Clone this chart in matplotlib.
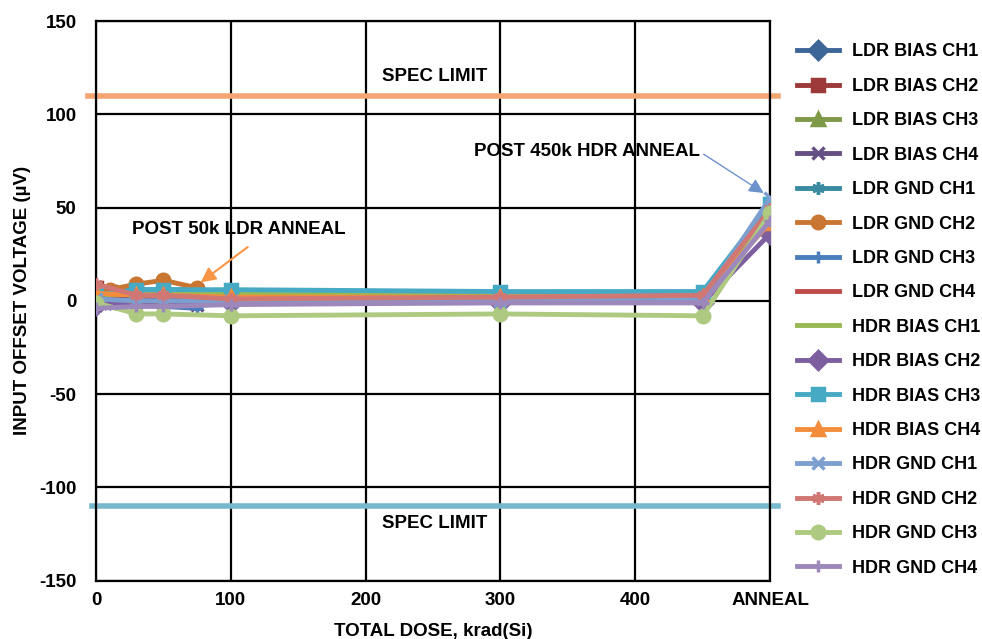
import matplotlib.pyplot as plt

plt.rcParams['font.family'] = ['Liberation Sans', 'DejaVu Sans']
plt.rcParams['font.weight'] = 'bold'
plt.rcParams['axes.unicode_minus'] = False

# doses (krad(Si)); the anneal point is placed at 500
ldr_dose = [0, 10, 30, 50, 75]
hdr_dose = [0, 30, 50, 100, 300, 450, 500]

ldr_names = ['LDR BIAS CH1', 'LDR BIAS CH2', 'LDR BIAS CH3', 'LDR BIAS CH4',
             'LDR GND CH1', 'LDR GND CH2', 'LDR GND CH3', 'LDR GND CH4']
ldr_vals = [
    [2, 1, 1, 1, 0],
    [7, 5, 3, 3, 3],
    [3, 3, 4, 4, 4],
    [-2, -1, -1, -1, -2],
    [5, 5, 6, 6, 6],
    [7, 6, 9, 11, 7],
    [0, -1, -2, -3, -4],
    [1, 1, 0, 0, 0],
]

hdr_names = ['HDR BIAS CH1', 'HDR BIAS CH2', 'HDR BIAS CH3', 'HDR BIAS CH4',
             'HDR GND CH1', 'HDR GND CH2', 'HDR GND CH3', 'HDR GND CH4']
hdr_vals = [
    [3, 4, 4, 4, 4, 4, 45],
    [-2, -1, -1, -1, -1, -1, 36],
    [3, 6, 6, 6, 5, 5, 52],
    [4, 3, 3, 2, 2, 2, 42],
    [1, 0, 0, 0, 0, 1, 55],
    [9, 3, 3, 1, 2, 3, 49],
    [-1, -7, -7, -8, -7, -8, 47],
    [-4, -3, -3, -2, -1, -1, 43],
]

spec_limit = 110
xtick_vals = [0, 100, 200, 300, 400, 500]
xtick_labels = ['0', '100', '200', '300', '400', 'ANNEAL']

ldr_colors = ['#3D6698', '#9B3A38', '#7E9A48', '#664F82',
              '#3A8BA0', '#C97633', '#4A7EBB', '#BE4B48']
hdr_colors = ['#98B954', '#7D5FA0', '#46AAC5', '#F38C3B',
              '#7C9FD0', '#D07774', '#AEC980', '#9C88BB']
asterisk = (6, 2, 0)
ldr_markers = ['D', 's', '^', 'x', asterisk, 'o', '+', None]
hdr_markers = [None, 'D', 's', '^', 'x', asterisk, 'o', '+']

fig = plt.figure(figsize=(9.82, 6.39), dpi=100)
ax = fig.add_axes([0.0978, 0.0912, 0.6864, 0.8759])

for vals, name, c, m in zip(ldr_vals, ldr_names, ldr_colors, ldr_markers):
    ax.plot(ldr_dose, vals, color=c, lw=3.5, marker=m, ms=9, mew=2.5,
            label=name, zorder=3)
for vals, name, c, m in zip(hdr_vals, hdr_names, hdr_colors, hdr_markers):
    ax.plot(hdr_dose, vals, color=c, lw=3.5, marker=m, ms=9, mew=2.5,
            label=name, zorder=3)

# spec limits
ax.plot([-6, 506], [spec_limit, spec_limit], color='#F4A672', lw=4,
        clip_on=False, zorder=2)
ax.plot([-3, 506], [-spec_limit, -spec_limit], color='#78B8CC', lw=4,
        clip_on=False, zorder=2)
ax.text(251, 120.5, 'SPEC LIMIT', ha='center', va='center', fontsize=13.5,
        fontweight='bold')
ax.text(251, -119.5, 'SPEC LIMIT', ha='center', va='center', fontsize=13.5,
        fontweight='bold')

# annotations
ax.annotate('POST 50k LDR ANNEAL', xy=(76, 9), xytext=(106, 38.5),
            ha='center', va='center', fontsize=13.5, fontweight='bold',
            arrowprops=dict(arrowstyle='-|>', color='#F79646', lw=1.5,
                            mutation_scale=22, shrinkA=8,
                            relpos=(0.6, 0.0)))
ax.annotate('POST 450k HDR ANNEAL', xy=(497, 57), xytext=(364, 80),
            ha='center', va='center', fontsize=13.5, fontweight='bold',
            arrowprops=dict(arrowstyle='-|>', color='#6E93CC', lw=1,
                            mutation_scale=22, shrinkA=1,
                            relpos=(1.0, 0.5)))

ax.set_xlim(0, 500)
ax.set_ylim(-150, 150)
ax.set_xticks(xtick_vals)
ax.set_xticklabels(xtick_labels)
ax.set_yticks([-150, -100, -50, 0, 50, 100, 150])
ax.tick_params(length=0, labelsize=13.5)
ax.tick_params(axis='y', pad=14)
ax.tick_params(axis='x', pad=8)
ax.grid(True, color='black', lw=1.6, zorder=1)
ax.set_axisbelow(True)
for s in ax.spines.values():
    s.set_linewidth(1.6)
    s.set_color('black')

ax.set_xlabel('TOTAL DOSE, krad(Si)', fontsize=13.5, fontweight='bold', labelpad=10)
ax.set_ylabel('INPUT OFFSET VOLTAGE (µV)', fontsize=13.5, fontweight='bold', labelpad=6)

ax.legend(loc='upper left', bbox_to_anchor=(1.04, 0.96), frameon=False,
          fontsize=13, handlelength=2.3, handletextpad=0.75, labelspacing=0.965,
          borderaxespad=0, borderpad=0)

fig.savefig('out.png', dpi=100)
